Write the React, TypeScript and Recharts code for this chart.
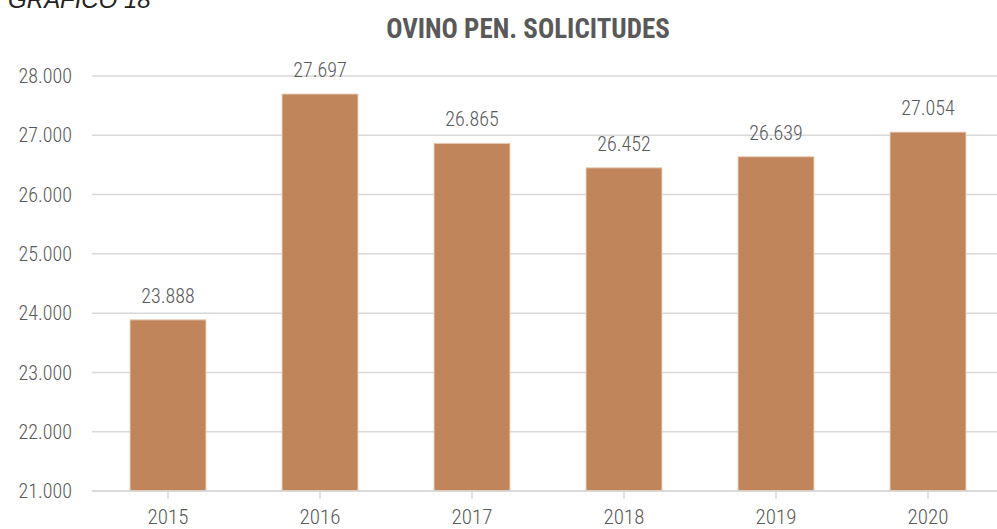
import { BarChart, Bar, XAxis, YAxis, CartesianGrid, LabelList } from 'recharts'

const years = ['2015', '2016', '2017', '2018', '2019', '2020']
const solicitudes = [23888, 27697, 26865, 26452, 26639, 27054]
const yTicks = [21000, 22000, 23000, 24000, 25000, 26000, 27000, 28000]

const data = years.map((year, i) => ({ year, value: solicitudes[i] }))

const FONT = '"Liberation Sans Narrow", "Roboto Condensed", Roboto, sans-serif'
const GREY = '#595959'

// 27697 -> "27.697"
const fmt = (v: number) => String(Math.round(v)).replace(/\B(?=(\d{3})+(?!\d))/g, '.')

export default function App() {
    return (
        <div
            style={{
                position: 'absolute',
                left: 0,
                top: 0,
                width: 997,
                height: 529,
                overflow: 'hidden',
                background: '#fff',
                fontFamily: FONT,
            }}>
            <div
                style={{
                    position: 'absolute',
                    left: 8,
                    top: -14,
                    fontSize: 24,
                    fontStyle: 'italic',
                    fontFamily: '"Liberation Sans", Arial, sans-serif',
                    color: '#222',
                }}>
                GRÁFICO 18
            </div>
            <div
                style={{
                    position: 'absolute',
                    left: 0,
                    width: 1056,
                    top: 13,
                    textAlign: 'center',
                    fontSize: 27,
                    fontWeight: 'bold',
                    color: GREY,
                }}>
                OVINO PEN. SOLICITUDES
            </div>
            <BarChart
                width={1010}
                height={529}
                data={data}
                margin={{ top: 76, right: 6, bottom: 0, left: 0 }}
                barCategoryGap="25%">
                <CartesianGrid vertical={false} stroke="#d9d9d9" strokeWidth={1.5} />
                <XAxis
                    dataKey="year"
                    height={38}
                    tickSize={8}
                    tickMargin={10}
                    axisLine={{ stroke: '#d9d9d9', strokeWidth: 1.5 }}
                    tickLine={{ stroke: '#d9d9d9', strokeWidth: 1.5 }}
                    tick={{ fill: GREY, fontSize: 21, fontWeight: 300, fontFamily: FONT }}
                />
                <YAxis
                    domain={[21000, 28000]}
                    ticks={yTicks}
                    width={92}
                    axisLine={false}
                    tickLine={false}
                    tickSize={0}
                    tickMargin={20}
                    tickFormatter={fmt}
                    tick={{ fill: GREY, fontSize: 20, fontWeight: 300, fontFamily: FONT }}
                />
                <Bar dataKey="value" fill="#C0855A" stroke="#ecd3c1" strokeWidth={1} isAnimationActive={false}>
                    <LabelList
                        dataKey="value"
                        position="top"
                        offset={17}
                        formatter={(v: number) => fmt(v)}
                        style={{ fill: GREY, fontSize: 20, fontWeight: 300, fontFamily: FONT }}
                    />
                </Bar>
            </BarChart>
        </div>
    )
}
